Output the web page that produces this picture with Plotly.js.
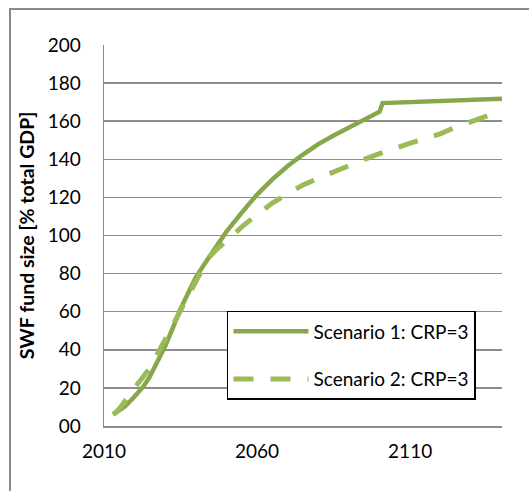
<!DOCTYPE html>
<html>
<head>
<meta charset="utf-8">
<script src="https://cdn.plot.ly/plotly-3.0.1.min.js"></script>
<style>
html,body{margin:0;padding:0;background:#fff;}
#frame{position:absolute;left:0;top:0;width:529px;height:491px;overflow:hidden;}
#border{position:absolute;left:9px;top:8px;width:540px;height:500px;border-top:2px solid #8a8a8a;border-left:2px solid #8a8a8a;pointer-events:none;}
#chart{position:absolute;left:0;top:0;width:529px;height:491px;}
</style>
</head>
<body>
<div id="frame">
<div id="chart"></div>
<div id="border"></div>
</div>
<script>
// Scenario 1 (solid)
const years1 = [2013, 2015, 2017, 2020, 2023, 2025, 2028, 2030, 2033, 2035, 2038, 2040, 2043, 2045, 2050, 2055, 2060, 2065, 2070, 2075, 2080, 2085, 2090, 2095, 2100, 2101, 2110, 2120, 2130, 2140];
const values1 = [6, 8, 10.5, 15.5, 21, 26, 35, 42, 53.5, 61.5, 71.5, 78, 85.5, 90.5, 102, 112, 121.5, 129.5, 136.5, 142.5, 148, 152.5, 156.5, 161, 165, 169.5, 170, 170.5, 171.1, 171.8];
// Scenario 2 (dashed)
const years2 = [2013, 2015, 2020, 2025, 2030, 2035, 2040, 2044, 2047, 2050, 2055, 2060, 2065, 2070, 2075, 2080, 2085, 2090, 2095, 2100, 2105, 2110, 2115, 2120, 2125, 2130, 2136, 2140];
const values2 = [6, 9, 20, 30.5, 45.5, 61, 76, 88, 93, 97.5, 104.5, 111, 117, 122, 126.5, 130, 133.5, 136.5, 140, 143, 146, 148.5, 150.8, 153.5, 157, 160, 163.5, 165.5];
const seriesNames = ["Scenario 1: CRP=3", "Scenario 2: CRP=3"];
const xTicks = [2010, 2060, 2110];

const font = "Lato, 'Open Sans', sans-serif";
const data = [
  {x: years1, y: values1, type: "scatter", mode: "lines", name: seriesNames[0], legendgroup: "a",
   line: {color: "#86a84a", width: 4.5}},
  {x: years2, y: values2, type: "scatter", mode: "lines", name: seriesNames[1], legendgroup: "b",
   line: {color: "#9bbb59", width: 5, dash: "20px,17px"}}
];
const layout = {
  width: 529, height: 491,
  margin: {l: 104, r: 27, t: 45, b: 65},
  paper_bgcolor: "rgba(0,0,0,0)", plot_bgcolor: "#fff",
  font: {family: font, size: 19, color: "#000"},
  showlegend: true,
  legend: {x: 0.309, y: 0.302, xanchor: "left", yanchor: "top", bgcolor: "#fff",
           bordercolor: "#000", borderwidth: 1.5, tracegroupgap: 20,
           font: {family: font, size: 19, color: "#000"}, itemwidth: 75},
  xaxis: {range: [2010, 2140], tickvals: xTicks, ticktext: xTicks.map(String), showgrid: false, zeroline: false,
          showline: true, linecolor: "#8c8c8c", linewidth: 1.5, ticks: "", ticklabelstandoff: 8},
  yaxis: {range: [0, 200], dtick: 20, tickformat: "02d", showgrid: true, gridcolor: "#8c8c8c", gridwidth: 1.5,
          zeroline: false, showline: true, linecolor: "#8c8c8c", linewidth: 1.5, ticks: "", ticklabelstandoff: 18,
          title: {text: "SWF fund size [% total GDP]", font: {family: font, size: 19.5, weight: "bold"}, standoff: 8}}
};
Plotly.newPlot("chart", data, layout, {displayModeBar: false, staticPlot: true});
</script>
</body>
</html>
